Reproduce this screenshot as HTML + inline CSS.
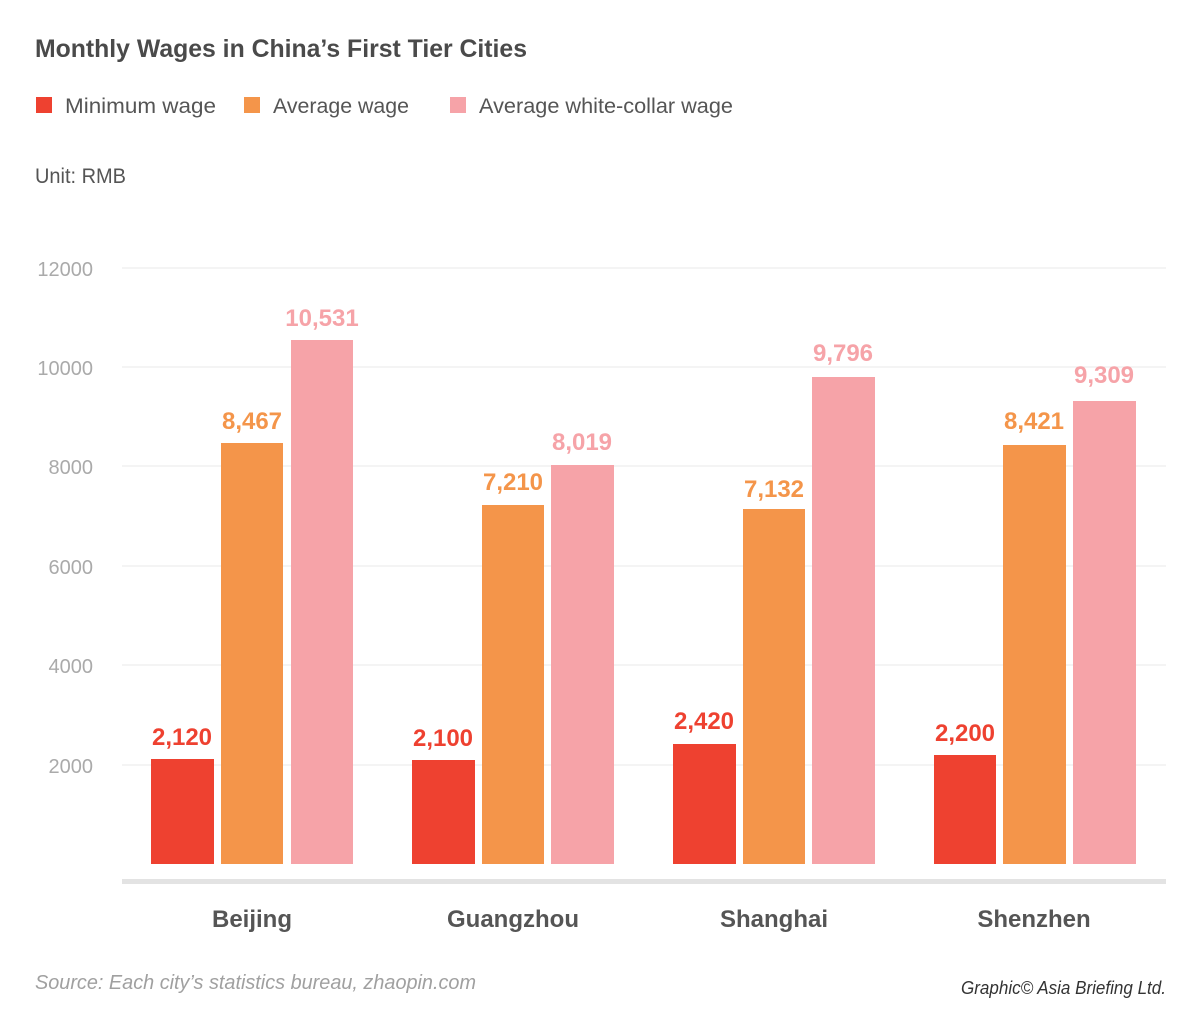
<!DOCTYPE html>
<html><head><meta charset="utf-8"><style>html,body{margin:0;padding:0;background:#fff}svg{display:block}</style></head>
<body>
<svg width="1200" height="1023" viewBox="0 0 1200 1023" xmlns="http://www.w3.org/2000/svg" font-family="Liberation Sans, sans-serif">
<text x="35" y="57" font-size="25" font-weight="bold" fill="#4a4a4a" textLength="492" lengthAdjust="spacingAndGlyphs">Monthly Wages in China’s First Tier Cities</text>
<rect x="36" y="97" width="16" height="16" fill="#ee4130"/>
<text x="65" y="113" font-size="21" fill="#555" textLength="151" lengthAdjust="spacingAndGlyphs">Minimum wage</text>
<rect x="244" y="97" width="16" height="16" fill="#f4954a"/>
<text x="273" y="113" font-size="21" fill="#555" textLength="136" lengthAdjust="spacingAndGlyphs">Average wage</text>
<rect x="450" y="97" width="16" height="16" fill="#f6a3a8"/>
<text x="479" y="113" font-size="21" fill="#555" textLength="254" lengthAdjust="spacingAndGlyphs">Average white-collar wage</text>
<text x="35" y="183" font-size="21" fill="#555" textLength="91" lengthAdjust="spacingAndGlyphs">Unit: RMB</text>
<g stroke="#e8e8e8" stroke-width="1">
<line x1="122" x2="1166" y1="268" y2="268"/><line x1="122" x2="1166" y1="367" y2="367"/><line x1="122" x2="1166" y1="466" y2="466"/><line x1="122" x2="1166" y1="566" y2="566"/><line x1="122" x2="1166" y1="665" y2="665"/><line x1="122" x2="1166" y1="765" y2="765"/>
</g>
<g font-size="20" fill="#aaa" text-anchor="end">
<text x="93" y="276">12000</text><text x="93" y="375">10000</text><text x="93" y="474">8000</text><text x="93" y="574">6000</text><text x="93" y="673">4000</text><text x="93" y="773">2000</text>
</g>
<g font-size="24" font-weight="bold" text-anchor="middle">
<rect x="151" y="759" width="63" height="105" fill="#ee4130"/><text x="182" y="745" fill="#ee4130">2,120</text>
<rect x="221" y="443" width="62" height="421" fill="#f4954a"/><text x="252" y="429" fill="#f4954a">8,467</text>
<rect x="291" y="340" width="62" height="524" fill="#f6a3a8"/><text x="322" y="326" fill="#f6a3a8">10,531</text>
<rect x="412" y="760" width="63" height="104" fill="#ee4130"/><text x="443" y="746" fill="#ee4130">2,100</text>
<rect x="482" y="505" width="62" height="359" fill="#f4954a"/><text x="513" y="490" fill="#f4954a">7,210</text>
<rect x="551" y="465" width="63" height="399" fill="#f6a3a8"/><text x="582" y="450" fill="#f6a3a8">8,019</text>
<rect x="673" y="744" width="63" height="120" fill="#ee4130"/><text x="704" y="729" fill="#ee4130">2,420</text>
<rect x="743" y="509" width="62" height="355" fill="#f4954a"/><text x="774" y="497" fill="#f4954a">7,132</text>
<rect x="812" y="377" width="63" height="487" fill="#f6a3a8"/><text x="843" y="361" fill="#f6a3a8">9,796</text>
<rect x="934" y="755" width="62" height="109" fill="#ee4130"/><text x="965" y="741" fill="#ee4130">2,200</text>
<rect x="1003" y="445" width="63" height="419" fill="#f4954a"/><text x="1034" y="429" fill="#f4954a">8,421</text>
<rect x="1073" y="401" width="63" height="463" fill="#f6a3a8"/><text x="1104" y="383" fill="#f6a3a8">9,309</text>
</g>
<rect x="122" y="879" width="1044" height="5" fill="#e3e3e3"/>
<g font-size="24" font-weight="bold" fill="#555" text-anchor="middle">
<text x="252" y="927">Beijing</text><text x="513" y="927">Guangzhou</text><text x="774" y="927">Shanghai</text><text x="1034" y="927">Shenzhen</text>
</g>
<text x="35" y="989" font-size="20" font-style="italic" fill="#a0a0a0" textLength="441" lengthAdjust="spacingAndGlyphs">Source: Each city’s statistics bureau, zhaopin.com</text>
<text x="1166" y="994" font-size="18" font-style="italic" fill="#333" text-anchor="end" textLength="205" lengthAdjust="spacingAndGlyphs">Graphic© Asia Briefing Ltd.</text>
</svg>
</body></html>
